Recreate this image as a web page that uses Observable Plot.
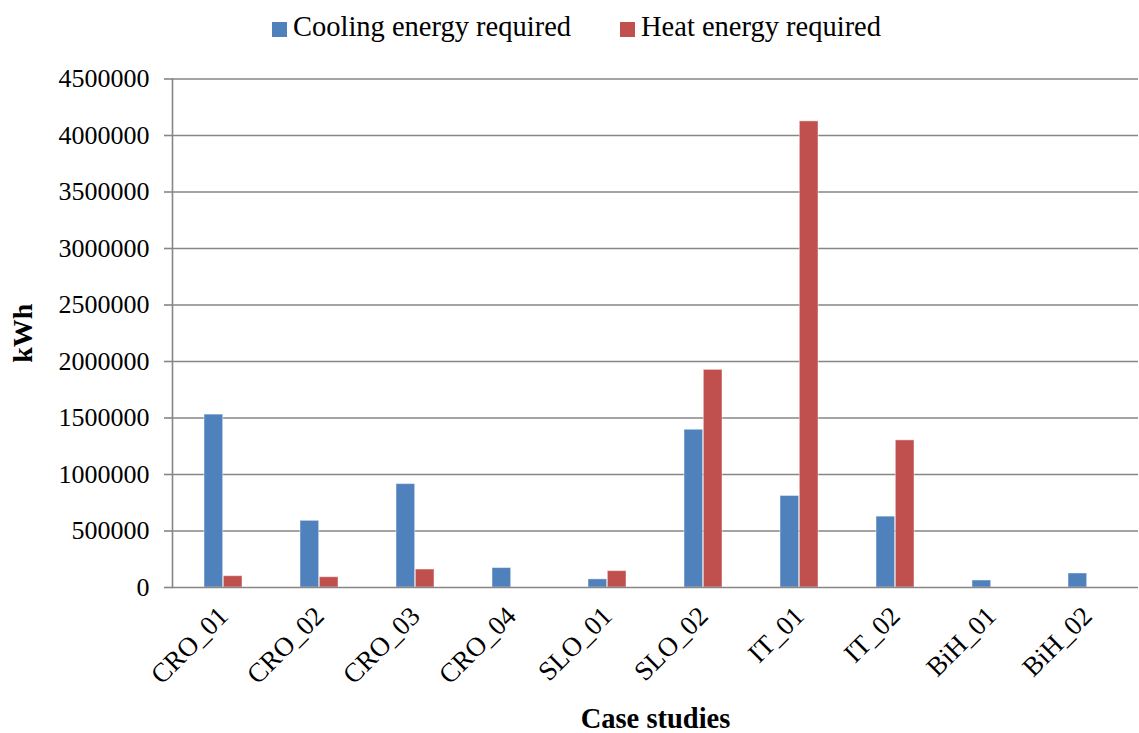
<!DOCTYPE html>
<html>
<head>
<meta charset="utf-8">
<script src="https://cdn.jsdelivr.net/npm/d3@7"></script>
<script src="https://cdn.jsdelivr.net/npm/@observablehq/plot@0.6"></script>
<style>
  body { margin: 0; background: #fff; font-family: "Liberation Serif", serif; }
  #chart { position: relative; width: 1139px; height: 733px; }
  .legend { position: absolute; top: 11px; left: 0; width: 1139px; height: 40px; }
  .item { position: absolute; top: 0; display: flex; align-items: center; font-size: 28.5px; color: #000; white-space: nowrap; }
  .swatch { width: 15px; height: 15px; margin-right: 6px; margin-top: 4px; }
  #plot { position: absolute; top: 50px; left: 0; }
</style>
</head>
<body>
<div id="chart">
  <div class="legend" id="legend"></div>
  <div id="plot"></div>
</div>
<script>
// Case studies on the category axis
const cases = ["CRO_01", "CRO_02", "CRO_03", "CRO_04", "SLO_01", "SLO_02", "IT_01", "IT_02", "BiH_01", "BiH_02"];
// Series names and colours
const series = ["Cooling energy required", "Heat energy required"];
const colors = ["#4F81BD", "#C0504D"];
// Annual energy per case study, kWh
const cooling = [1530000, 590000, 915000, 172000, 72000, 1396000, 810000, 627000, 62000, 124000];
const heat = [100000, 91000, 159000, 0, 145000, 1926000, 4125000, 1302000, 0, 0];
// Value axis ticks
const yTicks = d3.range(0, 4500001, 500000);

const rows = cases.flatMap((c, i) => [
  {caseStudy: c, series: series[0], value: cooling[i]},
  {caseStudy: c, series: series[1], value: heat[i]}
]);

// Legend
const legend = document.getElementById("legend");
const legendLeft = [272, 620];
series.forEach((s, i) => {
  const item = document.createElement("div");
  item.className = "item";
  item.style.left = legendLeft[i] + "px";
  const sw = document.createElement("span");
  sw.className = "swatch";
  sw.style.background = colors[i];
  item.appendChild(sw);
  item.appendChild(document.createTextNode(s));
  legend.appendChild(item);
});

const width = 1139, height = 683;
const marginLeft = 172, marginRight = 1, marginTop = 28.5, marginBottom = 146;
const paddingInner = 0.6, paddingOuter = 0.3;
const step = (width - marginLeft - marginRight) / (cases.length - paddingInner + 2 * paddingOuter);
const half = step * (1 - paddingInner) / 2;
const grid = "#868686";

const chart = Plot.plot({
  width, height, marginLeft, marginRight, marginTop, marginBottom,
  style: {fontFamily: "Liberation Serif, serif", fontSize: "26px", color: "#000", background: "#fff"},
  x: {domain: cases, paddingInner, paddingOuter, label: null},
  y: {domain: [0, 4500000], label: null},
  color: {domain: series, range: colors},
  marks: [
    Plot.ruleY(yTicks.filter(d => d > 0), {stroke: grid, strokeWidth: 1.6}),
    Plot.barY(rows.filter(d => d.series === series[0] && d.value > 0), {
      x: "caseStudy", y: "value", fill: "series", insetRight: half,
      stroke: "#fff", strokeOpacity: 0.45, strokeWidth: 1
    }),
    Plot.barY(rows.filter(d => d.series === series[1] && d.value > 0), {
      x: "caseStudy", y: "value", fill: "series", insetLeft: half,
      stroke: "#fff", strokeOpacity: 0.45, strokeWidth: 1
    }),
    Plot.ruleY([0], {stroke: grid, strokeWidth: 1.6}),
    Plot.frame({anchor: "left", stroke: grid, strokeWidth: 1.6}),
    Plot.axisY({ticks: yTicks, tickFormat: d3.format("d"), tickSize: 8, tickPadding: 15, fontSize: 26, stroke: grid, strokeWidth: 1.6, label: null}),
    Plot.axisX({tickRotate: -45, tickSize: 0, tickPadding: 24, fontSize: 27, label: null}),
    Plot.text(["kWh"], {frameAnchor: "left", textAnchor: "middle", rotate: -90, dx: -149, fontWeight: "bold", fontSize: 28}),
    Plot.text(["Case studies"], {frameAnchor: "bottom", dy: 140, fontWeight: "bold", fontSize: 28.5})
  ]
});
document.getElementById("plot").appendChild(chart);
</script>
</body>
</html>
